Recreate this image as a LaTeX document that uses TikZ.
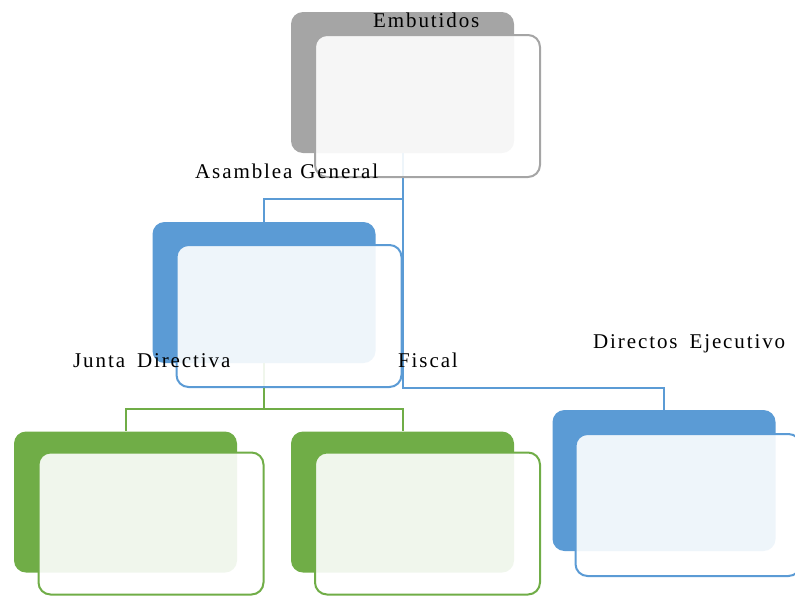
\documentclass[tikz,border=0pt]{standalone}
\usepackage{fontspec}
\setmainfont{Liberation Serif}
\newfontfamily\lblfont[LetterSpace=9]{Liberation Serif}
\definecolor{cgray}{HTML}{A5A5A5}
\definecolor{cblue}{HTML}{5B9BD5}
\definecolor{cgreen}{HTML}{70AD47}
\tikzset{
  backbox/.style={rectangle, rounded corners=12pt, minimum width=223pt, minimum height=141pt, inner sep=0pt, fill=#1, draw=none},
  frontbox/.style={rectangle, rounded corners=12pt, minimum width=225pt, minimum height=142pt, inner sep=0pt, draw=#1, line width=2pt, fill=white, fill opacity=0.9},
  conn/.style={draw=#1, line width=2pt},
  lbl/.style={anchor=base west, inner sep=0pt, font=\fontsize{21}{25}\lblfont, text=black}
}
\begin{document}
\begin{tikzpicture}[x=1pt,y=-1pt]
\useasboundingbox (0,0) rectangle (795,595);
% back boxes
\node[backbox=cgray]  (topb) at (402.5,82.5) {};
\node[backbox=cblue]  (asmb) at (264,292.5) {};
\node[backbox=cgreen] (jb)   at (125.5,502) {};
\node[backbox=cgreen] (fb)   at (402.5,502) {};
\node[backbox=cblue]  (dirb) at (664,480.5) {};
% connectors
\draw[conn=cblue] (topb.south) -- ++(0,46) -| (asmb.north);
\draw[conn=cblue] (topb.south) -- ++(0,235) -| (dirb.north);
\draw[conn=cgreen] (asmb.south) -- ++(0,46) -| (jb.north);
\draw[conn=cgreen] (asmb.south) -- ++(0,46) -| (fb.north);
% front boxes
\node[frontbox=cgray]  (topf) at (427.5,106) {};
\node[frontbox=cblue]  (asmf) at (289,316) {};
\node[frontbox=cgreen] (jf)   at (151,523.5) {};
\node[frontbox=cgreen] (ff)   at (427.5,523.5) {};
\node[frontbox=cblue]  (dirf) at (688,505) {};
% labels
\node[lbl] (t1) at (373,27) {Embutidos};
\node[lbl] (t2) at (195,178) {Asamblea\hspace{8pt}General};
\node[lbl] (t3) at (73,367) {Junta\hspace{12pt}Directiva};
\node[lbl] (t4) at (398,367) {Fiscal};
\node[lbl] (t5) at (593,348) {Directos\hspace{12pt}Ejecutivo};
\end{tikzpicture}
\end{document}
